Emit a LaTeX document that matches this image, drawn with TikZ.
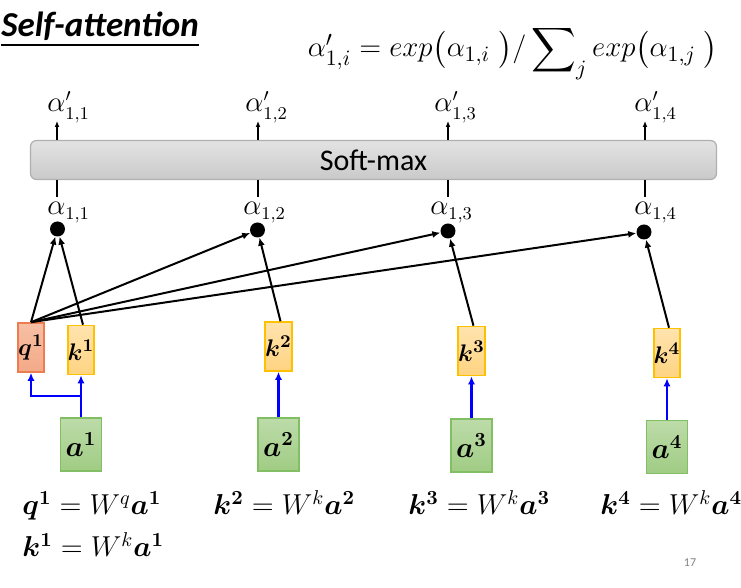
\documentclass[tikz,border=0pt]{standalone}
\usepackage{amsmath,amssymb,bm}
\usepackage[no-math]{fontspec}
\setmainfont{Carlito}
\usepackage{tikz}
\usetikzlibrary{arrows.meta}
\definecolor{qfill}{RGB}{244,170,135}
\definecolor{qline}{RGB}{237,125,80}
\definecolor{kfill}{RGB}{255,212,130}
\definecolor{kline}{RGB}{255,192,0}
\definecolor{afill}{RGB}{160,204,132}
\definecolor{aline}{RGB}{130,190,100}
\definecolor{barline}{RGB}{175,175,175}
\tikzstyle{qbox}=[draw=qline, top color=qfill!75!white, bottom color=qfill, line width=0.8pt, minimum width=13pt, minimum height=24.5pt, inner sep=0pt, font=\fontsize{13}{15}\selectfont]
\tikzstyle{kbox}=[qbox, draw=kline, top color=kfill!65!white, bottom color=kfill]
\tikzstyle{abox}=[draw=aline, top color=afill!70!white, bottom color=afill, line width=0.8pt, minimum width=20.5pt, minimum height=26.5pt, inner sep=0pt, font=\fontsize{14}{16}\selectfont]
\tikzstyle{dot}=[circle, fill=black, inner sep=0pt, minimum size=7.5pt]
\tikzstyle{lbl}=[anchor=base west, inner sep=0pt, font=\fontsize{13.5}{15}\selectfont]
\tikzstyle{eqn}=[anchor=base west, inner sep=0pt, font=\fontsize{14}{16}\selectfont]
\tikzstyle{score>}=[line width=1pt, -{Latex[length=4pt,width=3.5pt]}]
\tikzstyle{proj>}=[blue, line width=1.1pt, -{Latex[length=4pt,width=3.5pt]}]
\tikzstyle{out>}=[line width=0.7pt, -{Latex[length=3pt,width=2.5pt]}]

\begin{document}
\begin{tikzpicture}[x=0.5pt,y=-0.5pt]
\useasboundingbox (0,0) rectangle (741,588);
\node[anchor=base west, inner sep=0pt, font=\fontsize{17.5}{20}\selectfont\bfseries\itshape] (title) at (1,37) {Self-attention};
\draw[line width=0.9pt] ([yshift=-4pt]title.base west) -- ([yshift=-4pt]title.base east);
\node[anchor=base, inner sep=0pt, font=\fontsize{15.5}{18}\selectfont] (softeq) at (513,57) {$\alpha'_{1,i} = exp\big(\alpha_{1,i}\;\big)/\displaystyle\sum\nolimits_j exp\big(\alpha_{1,j}\;\big)$};
\node[draw=barline, top color=gray!22, bottom color=gray!42, rounded corners=3pt, line width=0.6pt, minimum width=343pt, minimum height=19.5pt, font=\fontsize{15}{18}\selectfont] (sm) at (373.5,160) {Soft-max};
\coordinate (up1) at (57,121);
\coordinate (up2) at (258,121);
\coordinate (up3) at (448,121);
\coordinate (up4) at (645,121);
\draw[out>] (sm.north -| up1) -- (up1);
\draw[out>] (sm.north -| up2) -- (up2);
\draw[out>] (sm.north -| up3) -- (up3);
\draw[out>] (sm.north -| up4) -- (up4);
\node[lbl] (ap1) at (47,112) {$\alpha'_{1,1}$};
\node[lbl] (ap2) at (245,112) {$\alpha'_{1,2}$};
\node[lbl] (ap3) at (434,112) {$\alpha'_{1,3}$};
\node[lbl] (ap4) at (634,112) {$\alpha'_{1,4}$};
\coordinate (lo1) at (57,197);
\coordinate (lo2) at (258,197);
\coordinate (lo3) at (448,197);
\coordinate (lo4) at (645,197);
\draw[line width=0.7pt] (sm.south -| lo1) -- (lo1);
\draw[line width=0.7pt] (sm.south -| lo2) -- (lo2);
\draw[line width=0.7pt] (sm.south -| lo3) -- (lo3);
\draw[line width=0.7pt] (sm.south -| lo4) -- (lo4);
\node[lbl] (al1) at (47,215) {$\alpha_{1,1}$};
\node[lbl] (al2) at (243,215) {$\alpha_{1,2}$};
\node[lbl] (al3) at (430,215) {$\alpha_{1,3}$};
\node[lbl] (al4) at (634,215) {$\alpha_{1,4}$};
\node[dot] (d1) at (57.5,229) {};
\node[dot] (d2) at (257.5,230) {};
\node[dot] (d3) at (448,231) {};
\node[dot] (d4) at (644,232) {};
\node[qbox] (q1) at (31,347.5) {$\bm{q^1}$};
\node[kbox] (k1) at (81,350) {$\bm{k^1}$};
\node[kbox] (k2) at (278.5,346.5) {$\bm{k^2}$};
\node[kbox] (k3) at (471.5,351) {$\bm{k^3}$};
\node[kbox] (k4) at (667,353) {$\bm{k^4}$};
\node[abox] (a1) at (81,444.5) {$\bm{a^1}$};
\node[abox] (a2) at (278.5,444.5) {$\bm{a^2}$};
\node[abox] (a3) at (471.5,445.5) {$\bm{a^3}$};
\node[abox] (a4) at (667,447) {$\bm{a^4}$};
\draw[score>] (q1.north) -- (d1);
\draw[score>] (q1.north) -- (d2);
\draw[score>] (q1.north) -- (d3);
\draw[score>] (q1.north) -- (d4);
\draw[score>] ([xshift=1pt]k1.north) -- (d1);
\draw[score>] ([xshift=1pt]k2.north) -- (d2);
\draw[score>] ([xshift=1pt]k3.north) -- (d3);
\draw[score>] ([xshift=1pt]k4.north) -- (d4);
\coordinate (fork) at (81,396);
\draw[proj>] (a1.north) -- (k1.south);
\draw[proj>] (fork) -| (q1.south);
\draw[proj>] (a2.north) -- (k2.south);
\draw[proj>] (a3.north) -- (k3.south);
\draw[proj>] (a4.north) -- (k4.south);
\node[eqn] (eqq1) at (22,515) {$\bm{q^1} = W^q\bm{a^1}$};
\node[eqn] (eqk2) at (213,515) {$\bm{k^2} = W^k\bm{a^2}$};
\node[eqn] (eqk3) at (408,515) {$\bm{k^3} = W^k\bm{a^3}$};
\node[eqn] (eqk4) at (600,515) {$\bm{k^4} = W^k\bm{a^4}$};
\node[eqn] (eqk1) at (22,557) {$\bm{k^1} = W^k\bm{a^1}$};
\node[text=gray, font=\fontsize{6}{7}\selectfont] (pg) at (690,563) {17};
\end{tikzpicture}
\end{document}
